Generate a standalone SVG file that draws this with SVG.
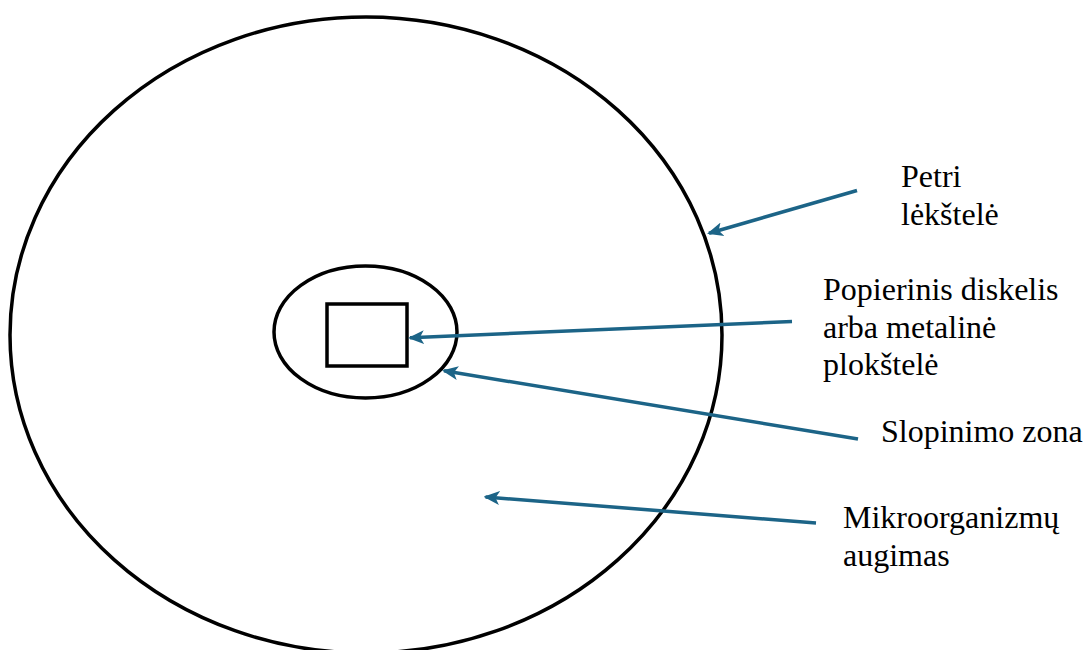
<svg xmlns="http://www.w3.org/2000/svg" width="1085" height="650" viewBox="0 0 1085 650">
<style>
.outline{fill:none;stroke:#000;stroke-width:3.5}
.conn{fill:none;stroke:#1c6487;stroke-width:3.5}
.lbl{font-family:"Liberation Serif","Times New Roman",serif;font-size:32px;fill:#000}
</style>
<defs>
<marker id="ah" markerUnits="userSpaceOnUse" viewBox="0 0 16 16" refX="14" refY="8" markerWidth="16" markerHeight="16" orient="auto">
<path d="M0,1 L16,8 L0,15 L4,8 Z" fill="#1c6487"/>
</marker>
</defs>
<rect width="1085" height="650" fill="#fff"/>
<g id="petri-dish"><ellipse class="outline" cx="366" cy="335" rx="356" ry="318"/></g>
<g id="inhibition-zone"><ellipse class="outline" cx="365.5" cy="332" rx="91.5" ry="66"/></g>
<g id="disk"><rect class="outline" x="327" y="304" width="80" height="62"/></g>
<g id="connectors">
<line class="conn" x1="857" y1="190.5" x2="709" y2="233.2" marker-end="url(#ah)"/>
<line class="conn" x1="792" y1="321.5" x2="410" y2="337.8" marker-end="url(#ah)"/>
<line class="conn" x1="858" y1="439" x2="444" y2="370.8" marker-end="url(#ah)"/>
<line class="conn" x1="816" y1="523" x2="485.5" y2="497" marker-end="url(#ah)"/>
</g>
<g id="label-petri"><text class="lbl" x="901" y="187">Petri</text><text class="lbl" x="901" y="225">lėkštelė</text></g>
<g id="label-disk"><text class="lbl" x="823" y="300">Popierinis diskelis</text><text class="lbl" x="823" y="338">arba metalinė</text><text class="lbl" x="823" y="375">plokštelė</text></g>
<g id="label-zone"><text class="lbl" x="881" y="442">Slopinimo zona</text></g>
<g id="label-growth"><text class="lbl" x="843" y="528">Mikroorganizmų</text><text class="lbl" x="843" y="566">augimas</text></g>
</svg>
